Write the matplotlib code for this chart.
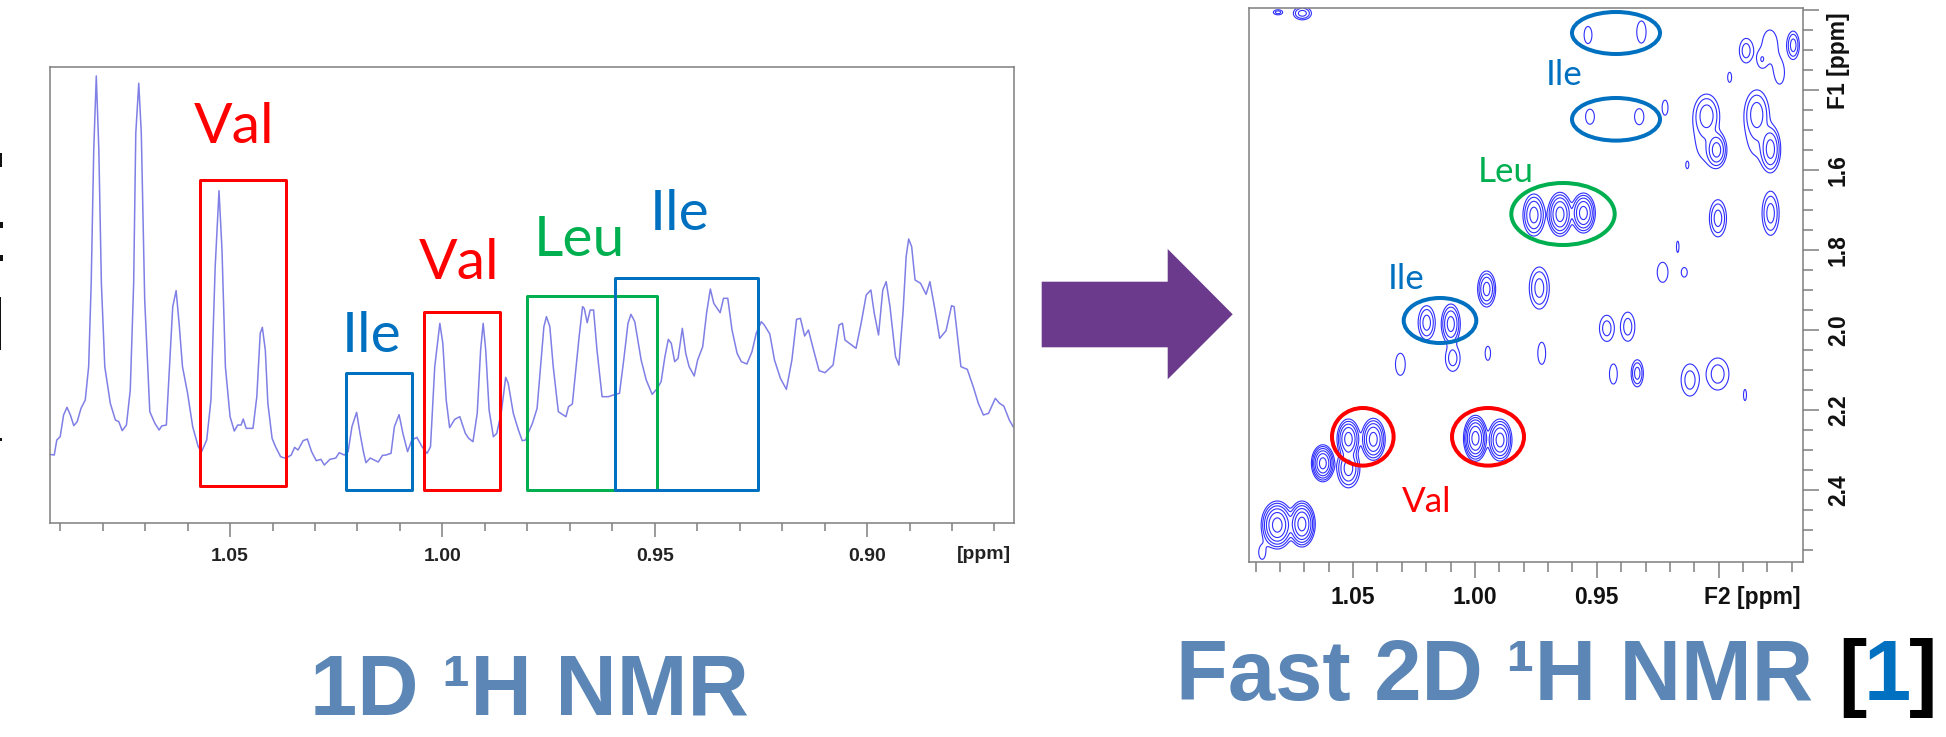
import numpy as np
import matplotlib
matplotlib.use('Agg')
import matplotlib.pyplot as plt
from matplotlib.patches import Rectangle, Ellipse, Polygon

W, H = 1946, 737
px = 0.72  # font size in pt for one pixel at dpi 100

# 1D spectrum
shift_1d = [1.0925, 1.0914, 1.0908, 1.0900, 1.0892, 1.0884, 1.0876, 1.0868, 1.0860, 1.0851, 1.0841, 1.0833,
            1.0827, 1.0821, 1.0815, 1.0809, 1.0803, 1.0795, 1.0782, 1.0770, 1.0762, 1.0754, 1.0744, 1.0735,
            1.0727, 1.0722, 1.0715, 1.0709, 1.0701, 1.0689, 1.0677, 1.0667, 1.0661, 1.0650, 1.0643, 1.0635,
            1.0627, 1.0620, 1.0612, 1.0600, 1.0588, 1.0575, 1.0567, 1.0555, 1.0545, 1.0535, 1.0526, 1.0519,
            1.0511, 1.0500, 1.0490, 1.0482, 1.0474, 1.0469, 1.0462, 1.0446, 1.0437, 1.0429, 1.0424, 1.0417,
            1.0411, 1.0401, 1.0393, 1.0381, 1.0369, 1.0356, 1.0348, 1.0340, 1.0328, 1.0318, 1.0308, 1.0297,
            1.0286, 1.0278, 1.0265, 1.0251, 1.0243, 1.0231, 1.0222, 1.0213, 1.0202, 1.0194, 1.0186, 1.0180,
            1.0170, 1.0151, 1.0141, 1.0133, 1.0121, 1.0113, 1.0102, 1.0093, 1.0082, 1.0072, 1.0060, 1.0048,
            1.0036, 1.0028, 1.0018, 1.0006, 0.9999, 0.9991, 0.9983, 0.9971, 0.9959, 0.9946, 0.9938, 0.9928,
            0.9918, 0.9910, 0.9904, 0.9898, 0.9890, 0.9880, 0.9872, 0.9861, 0.9851, 0.9845, 0.9833, 0.9821,
            0.9812, 0.9804, 0.9800, 0.9788, 0.9777, 0.9767, 0.9761, 0.9755, 0.9747, 0.9739, 0.9727, 0.9719,
            0.9709, 0.9703, 0.9694, 0.9686, 0.9678, 0.9670, 0.9666, 0.9659, 0.9652, 0.9644, 0.9636, 0.9624,
            0.9609, 0.9593, 0.9583, 0.9573, 0.9563, 0.9556, 0.9547, 0.9532, 0.9520, 0.9506, 0.9494, 0.9485,
            0.9476, 0.9468, 0.9461, 0.9453, 0.9445, 0.9435, 0.9427, 0.9419, 0.9407, 0.9399, 0.9387, 0.9378,
            0.9369, 0.9361, 0.9346, 0.9338, 0.9328, 0.9318, 0.9306, 0.9296, 0.9283, 0.9271, 0.9261, 0.9249,
            0.9242, 0.9229, 0.9218, 0.9204, 0.9190, 0.9177, 0.9166, 0.9157, 0.9147, 0.9138, 0.9126, 0.9113,
            0.9099, 0.9080, 0.9066, 0.9058, 0.9052, 0.9026, 0.9014, 0.9002, 0.8991, 0.8983, 0.8973, 0.8963,
            0.8955, 0.8946, 0.8933, 0.8925, 0.8915, 0.8908, 0.8902, 0.8895, 0.8887, 0.8874, 0.8861, 0.8852,
            0.8840, 0.8829, 0.8814, 0.8801, 0.8795, 0.8779, 0.8764, 0.8750, 0.8738, 0.8726, 0.8714, 0.8698,
            0.8688, 0.8678, 0.8665, 0.8656]
intensity_1d = [205, 203, 248, 258, 323, 346, 323, 291, 303, 343, 368, 468,
                718, 1118, 1340, 1118, 718, 468, 358, 308, 303, 276, 293, 398,
                718, 1168, 1318, 1168, 668, 333, 298, 278, 290, 293, 458, 648,
                696, 598, 468, 388, 288, 228, 213, 248, 368, 768, 996, 818,
                468, 318, 275, 293, 293, 311, 283, 283, 378, 568, 586, 518,
                358, 253, 228, 198, 193, 203, 226, 218, 246, 251, 213, 186,
                190, 173, 190, 194, 210, 203, 213, 288, 331, 268, 213, 180,
                194, 182, 202, 203, 208, 288, 324, 268, 213, 248, 256, 228,
                208, 228, 468, 598, 538, 368, 285, 310, 318, 268, 253, 243,
                328, 518, 598, 518, 338, 258, 268, 333, 436, 418, 328, 278,
                246, 248, 263, 298, 343, 498, 588, 618, 588, 468, 333, 326,
                318, 348, 356, 458, 558, 648, 643, 600, 638, 638, 518, 378,
                378, 385, 388, 488, 598, 625, 603, 488, 428, 385, 403, 423,
                498, 550, 538, 483, 493, 583, 508, 468, 440, 488, 528, 628,
                701, 658, 630, 673, 673, 578, 508, 483, 476, 513, 568, 603,
                593, 566, 488, 433, 400, 488, 610, 613, 560, 578, 518, 456,
                450, 473, 593, 598, 548, 523, 598, 683, 698, 628, 563, 698,
                723, 648, 498, 473, 638, 798, 851, 828, 728, 718, 685, 723,
                638, 553, 576, 651, 648, 468, 460, 408, 358, 323, 328, 373,
                358, 350, 308, 288]

# 2D cross peaks: F2 shift, F1 shift, half widths of the outer contour, number of contours
peak_f2 = [1.0808, 1.0708, 0.9758, 0.9651, 0.9555, 0.9952, 0.9736, 1.0198, 1.0099, 1.0091, 1.0306, 0.9947, 0.9726,
           1.0519, 1.0417, 0.9998, 0.9897, 1.0624, 1.0519, 1.0811, 1.0710, 1.0873, 0.9459, 0.9373, 0.9432, 0.9334,
           0.9118, 0.9004, 0.8892, 0.9536, 0.9317, 0.9528, 0.9326, 0.9220, 0.8888, 0.8790, 0.8824, 0.8694, 0.8749,
           0.8955, 0.9049, 0.9060, 0.9008, 0.8844, 0.8843, 0.8787, 0.9129, 0.9003, 0.8787, 0.9168, 0.9230, 0.9141]
peak_f1 = [1.2050, 1.2075, 1.7118, 1.7100, 1.7068, 1.8968, 1.8943, 1.9810, 1.9843, 2.0700, 2.0850, 2.0575, 2.0575,
           2.2718, 2.2725, 2.2700, 2.2743, 2.3325, 2.3450, 2.4868, 2.4843, 2.5550, 1.9950, 1.9910, 2.1093, 2.1075,
           2.1243, 2.1093, 2.1618, 1.2618, 1.2543, 1.4660, 1.4660, 1.4435, 1.3010, 1.2868, 1.3243, 1.2875, 1.3593,
           1.3675, 1.4618, 1.5243, 1.5493, 1.4575, 1.5243, 1.5475, 1.5868, 1.7200, 1.7075, 1.7910, 1.8550, 1.8550]
peak_w2 = [0.0019, 0.0037, 0.0045, 0.0050, 0.0049, 0.0037, 0.0041, 0.0035, 0.0039, 0.0030, 0.0020, 0.0011, 0.0016,
           0.0047, 0.0049, 0.0049, 0.0049, 0.0047, 0.0047, 0.0066, 0.0055, 0.0014, 0.0030, 0.0029, 0.0016, 0.0025,
           0.0036, 0.0046, 0.0006, 0.0016, 0.0019, 0.0018, 0.0019, 0.0012, 0.0027, 0.0031, 0.0012, 0.0025, 0.0016,
           0.0008, 0.0050, 0.0033, 0.0041, 0.0049, 0.0033, 0.0041, 0.0005, 0.0035, 0.0035, 0.0005, 0.0022, 0.0012]
peak_w1 = [0.0063, 0.0163, 0.0525, 0.0550, 0.0500, 0.0450, 0.0525, 0.0425, 0.0500, 0.0325, 0.0275, 0.0175, 0.0275,
           0.0500, 0.0525, 0.0575, 0.0525, 0.0463, 0.0488, 0.0600, 0.0575, 0.0175, 0.0325, 0.0363, 0.0250, 0.0338,
           0.0400, 0.0400, 0.0138, 0.0213, 0.0275, 0.0188, 0.0200, 0.0188, 0.0300, 0.0375, 0.0125, 0.0350, 0.0225,
           0.0125, 0.0500, 0.0450, 0.0438, 0.0575, 0.0375, 0.0575, 0.0075, 0.0463, 0.0550, 0.0138, 0.0250, 0.0118]
peak_rings = [2, 3, 4, 5, 5, 4, 3, 3, 4, 2, 1, 1, 1,
              5, 5, 6, 5, 6, 4, 6, 6, 1, 2, 2, 1, 3,
              2, 2, 1, 1, 1, 1, 1, 1, 2, 1, 1, 3, 1,
              1, 3, 1, 4, 3, 1, 4, 1, 3, 3, 1, 1, 1]

major_ppm = [1.05, 1.00, 0.95, 0.90]
f1_major = [1.2, 1.4, 1.6, 1.8, 2.0, 2.2, 2.4]
f1_labels = ['', '', '1.6', '1.8', '2.0', '2.2', '2.4']

RED, BLUE, GREEN = '#ff0000', '#0070c0', '#00b050'
TITLE = '#5b86b5'
GREY = '#7f7f7f'
LABEL_FONT = 'Lato'
BOLD_FONT = 'Liberation Sans'


def box(left, top, right, bottom):
    return [left / W, 1 - bottom / H, (right - left) / W, (bottom - top) / H]


fig = plt.figure(figsize=(W / 100, H / 100), dpi=100)

# 1D panel
ax1 = fig.add_axes(box(50, 67.3, 1014, 522.7))
ax1.plot(shift_1d, intensity_1d, color='#7f7fe6', lw=1.1, solid_joinstyle='round')
ax1.set_xlim(1.0924, 0.8654)
ax1.set_ylim(0, 1366)
ax1.set_yticks([])
ax1.set_xticks(major_ppm)
ax1.set_xticklabels(['%.2f' % v for v in major_ppm], fontfamily=BOLD_FONT, fontweight='bold',
                    fontsize=19.4 * px, color='#222222')
ax1.set_xticks(np.arange(0.87, 1.095, 0.01), minor=True)
ax1.tick_params(axis='x', which='major', length=14 * px, width=1.1, color=GREY, pad=11 * px)
ax1.tick_params(axis='x', which='minor', length=8 * px, width=1.1, color=GREY)

# 2D panel
ax2 = fig.add_axes(box(1249, 8.3, 1803, 561.7))
f2 = np.linspace(0.8654, 1.0927, 1100)
f1 = np.linspace(1.195, 2.5785, 1100)
Z = np.zeros((f1.size, f2.size))
ratio = 2.0
for c2, c1, w2, w1, n in zip(peak_f2, peak_f1, peak_w2, peak_w1, peak_rings):
    height = ratio ** (n - 1) * 1.4
    r = np.sqrt(2 * np.log(height))
    Z += height * np.outer(np.exp(-0.5 * ((f1 - c1) * r / w1) ** 2), np.exp(-0.5 * ((f2 - c2) * r / w2) ** 2))
ax2.contour(f2, f1, Z, levels=ratio ** np.arange(6), colors='#2f2fff', linewidths=0.8)
ax2.set_xlim(1.0927, 0.8654)
ax2.set_ylim(2.5785, 1.195)
ax2.set_xticks(major_ppm)
ax2.set_xticklabels(['1.05', '1.00', '0.95', ''], fontfamily=BOLD_FONT, fontweight='bold',
                    fontsize=16.5, color='#111111')
ax2.set_xticks(np.arange(0.87, 1.095, 0.01), minor=True)
ax2.yaxis.tick_right()
ax2.set_yticks(f1_major)
ax2.set_yticklabels(f1_labels, fontfamily=BOLD_FONT, fontweight='bold', fontsize=16.5, color='#111111',
                    rotation=90, va='center')
ax2.set_yticks(np.arange(1.2, 2.56, 0.05), minor=True)
ax2.tick_params(axis='both', which='major', length=16 * px, width=1.1, color=GREY, pad=8 * px)
ax2.tick_params(axis='both', which='minor', length=10 * px, width=1.1, color=GREY)

for ax in (ax1, ax2):
    for s in ax.spines.values():
        s.set_color(GREY)
        s.set_linewidth(1.1)

# overlay in image pixels for the slide annotations
ov = fig.add_axes([0, 0, 1, 1], zorder=5)
ov.set_xlim(0, W)
ov.set_ylim(H, 0)
ov.axis('off')
ov.patch.set_alpha(0)

rects = [(199.7, 180, 285.8, 486, RED), (346, 373.3, 411.5, 490, BLUE), (424.2, 312.3, 500, 490, RED),
         (526.5, 296, 656.7, 490, GREEN), (615, 278.3, 758.3, 490, BLUE)]
for x0, y0, x1, y1, c in rects:
    ov.add_patch(Rectangle((x0, y0), x1 - x0, y1 - y0, fill=False, ec=c, lw=3 * px, joinstyle='round'))

ovals = [(1616, 33, 46, 23, BLUE), (1616, 119.3, 46, 23.3, BLUE), (1563, 214, 53.7, 33, GREEN),
         (1440, 320.5, 38.3, 24.5, BLUE), (1362.8, 436.8, 32.8, 30.8, RED), (1488, 436.8, 38, 30.8, RED)]
for cx, cy, rx, ry, c in ovals:
    ov.add_patch(Ellipse((cx, cy), 2 * rx - 4, 2 * ry - 4, fill=False, ec=c, lw=4 * px))

big = 57 * px
small = 35 * px
labels = [(194, 143.3, 'Val', RED, big), (342, 351.7, 'Ile', BLUE, big), (419, 279.3, 'Val', RED, big),
          (534, 256, 'Leu', GREEN, big), (650, 230, 'Ile', BLUE, big),
          (1546, 85, 'Ile', BLUE, small), (1478, 181.7, 'Leu', GREEN, small),
          (1388, 289, 'Ile', BLUE, small), (1402, 511.7, 'Val', RED, small)]
for x, y, s, c, fs in labels:
    ov.text(x, y, s, color=c, fontsize=fs, family=LABEL_FONT, ha='left', va='baseline')

ov.add_patch(Polygon([(1041.7, 281.7), (1167.7, 281.7), (1167.7, 249), (1232.7, 314.3),
                      (1167.7, 379.3), (1167.7, 347.3), (1041.7, 347.3)], closed=True, fc='#6b3a8c', ec='none'))

bold = dict(family=BOLD_FONT, fontweight='bold', ha='left', va='baseline')
ov.text(1011, 559, '[ppm]', fontsize=19.4 * px, color='#222222', family=BOLD_FONT, fontweight='bold',
        ha='right', va='baseline')
ov.text(1800, 604, 'F2 [ppm]', fontsize=16.5, color='#111111', family=BOLD_FONT, fontweight='bold',
        ha='right', va='baseline')
ov.text(1838, 60.5, 'F1 [ppm]', fontsize=16.5, color='#111111', family=BOLD_FONT, fontweight='bold',
        rotation=90, ha='center', va='center')

ov.text(310, 714.3, '1D ¹H NMR', fontsize=85 * px, color=TITLE, **bold)
ov.text(1176, 700, 'Fast 2D ¹H NMR', fontsize=85 * px, color=TITLE, **bold)
ov.text(1838, 700, '[', fontsize=85 * px, color='black', **bold)
ov.text(1864, 700, '1', fontsize=85 * px, color=BLUE, **bold)
ov.text(1909, 700, ']', fontsize=85 * px, color='black', **bold)

# bits of cropped text at the left edge of the slide
for x0, y0, w, h in [(0, 153, 2, 14), (0, 222, 3, 6), (0, 255, 3, 6), (0, 297, 1, 53), (0, 438, 2, 3)]:
    ov.add_patch(Rectangle((x0, y0), w, h, fc='#111111', ec='none'))

fig.savefig('out.png', dpi=100)
